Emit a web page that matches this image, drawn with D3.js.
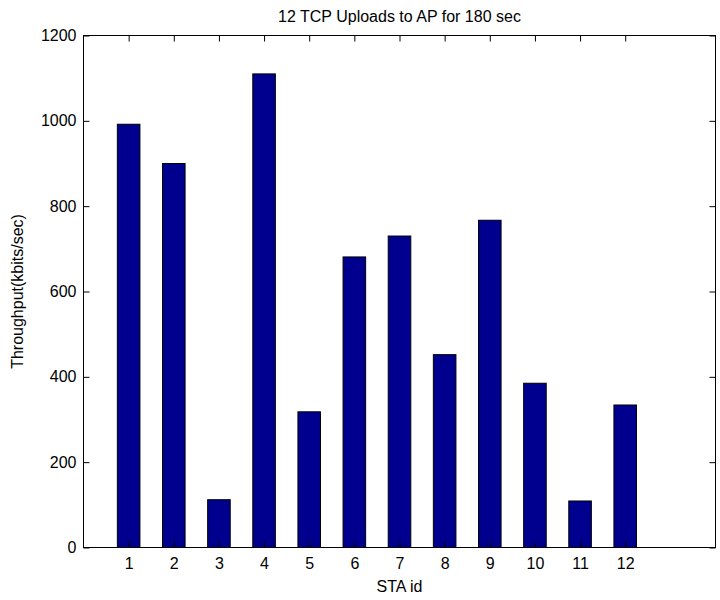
<!DOCTYPE html>
<html>
<head>
<meta charset="utf-8">
<script src="https://cdn.jsdelivr.net/npm/d3@7"></script>
<style>
  html, body { margin: 0; padding: 0; background: #fff; }
  text { font-family: "Liberation Sans", Arial, Helvetica, sans-serif; }
</style>
</head>
<body>
<svg id="chart" width="720" height="600"></svg>
<script>
const categories = [1, 2, 3, 4, 5, 6, 7, 8, 9, 10, 11, 12];
const throughput = [992, 900, 112, 1110, 318, 681, 730, 452, 767, 385, 109, 334];
const yTicks = [0, 200, 400, 600, 800, 1000, 1200];
const xTicks = categories;
const titleText = "12 TCP Uploads to AP for 180 sec";
const xLabel = "STA id";
const yLabel = "Throughput(kbits/sec)";

(function () {
const mLeft = 83.5, mRight = 715.5, mTop = 35.5, mBottom = 547.5;
const fs = 16;
const svg = d3.select("#chart");
const x = d3.scaleLinear().domain([0, 14]).range([mLeft, mRight]);
const y = d3.scaleLinear().domain([0, 1200]).range([mBottom, mTop]);
const barW = (x(1) - x(0)) * 0.5;

svg.append("rect").attr("x", 0).attr("y", 0).attr("width", 720).attr("height", 600).attr("fill", "#fff");

svg.selectAll("rect.bar").data(categories).enter().append("rect")
  .attr("class", "bar")
  .attr("x", (d) => x(d) - barW / 2)
  .attr("y", (d, i) => y(throughput[i]))
  .attr("width", barW)
  .attr("height", (d, i) => y(0) - y(throughput[i]))
  .attr("fill", "#00008F")
  .attr("stroke", "#000")
  .attr("stroke-width", 1);

const tl = 6;
const gB = svg.append("g").attr("transform", `translate(0,${mBottom})`)
  .call(d3.axisBottom(x).tickValues(xTicks).tickSize(-tl).tickPadding(10).tickFormat(d3.format("d")));
const gT = svg.append("g").attr("transform", `translate(0,${mTop})`)
  .call(d3.axisTop(x).tickValues(xTicks).tickSize(-tl).tickFormat(""));
const gL = svg.append("g").attr("transform", `translate(${mLeft},0)`)
  .call(d3.axisLeft(y).tickValues(yTicks).tickSize(-tl).tickPadding(7).tickFormat(d3.format("d")));
const gR = svg.append("g").attr("transform", `translate(${mRight},0)`)
  .call(d3.axisRight(y).tickValues(yTicks).tickSize(-tl).tickFormat(""));

[gB, gT, gL, gR].forEach(g => {
  g.select(".domain").remove();
  g.selectAll("line").attr("stroke", "#000").attr("stroke-width", 1);
  g.selectAll("text").attr("font-size", fs).attr("fill", "#000")
   .attr("font-family", "Liberation Sans, Arial, sans-serif");
});

svg.append("rect").attr("x", mLeft).attr("y", mTop)
  .attr("width", mRight - mLeft).attr("height", mBottom - mTop)
  .attr("fill", "none").attr("stroke", "#000").attr("stroke-width", 1);

svg.append("text").attr("x", (mLeft + mRight) / 2).attr("y", 22)
  .attr("text-anchor", "middle").attr("font-size", fs).text(titleText);
svg.append("text").attr("x", (mLeft + mRight) / 2).attr("y", 592)
  .attr("text-anchor", "middle").attr("font-size", fs).text(xLabel);
svg.append("text").attr("transform", `translate(23,${(mTop + mBottom) / 2}) rotate(-90)`)
  .attr("text-anchor", "middle").attr("font-size", fs).text(yLabel);
})();
</script>
</body>
</html>
